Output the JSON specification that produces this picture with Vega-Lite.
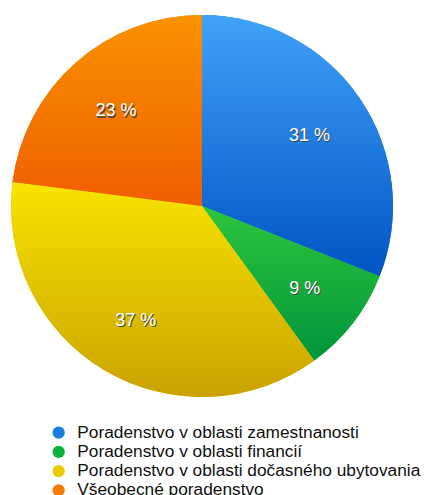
{
  "$schema": "https://vega.github.io/schema/vega-lite/v6.json",
  "autosize": "none",
  "width": 404,
  "height": 412,
  "padding": {"left": 0, "top": 0, "right": 20, "bottom": 83},
  "background": "white",
  "config": {"view": {"stroke": null}, "font": "Liberation Sans"},
  "data": {"values": [
    {"cat": "Poradenstvo v oblasti zamestnanosti", "pct": 31, "ord": 1, "label": "31 %"},
    {"cat": "Poradenstvo v oblasti financií", "pct": 9, "ord": 2, "label": "9 %"},
    {"cat": "Poradenstvo v oblasti dočasného ubytovania", "pct": 37, "ord": 3, "label": "37 %"},
    {"cat": "Všeobecné poradenstvo", "pct": 23, "ord": 4, "label": "23 %"}
  ]},
  "encoding": {
    "theta": {"field": "pct", "type": "quantitative", "stack": true},
    "order": {"field": "ord", "type": "quantitative"}
  },
  "layer": [
    {
      "mark": {"type": "arc", "outerRadius": 191},
      "encoding": {
        "color": {
          "field": "cat", "type": "nominal",
          "scale": {
            "domain": ["Poradenstvo v oblasti zamestnanosti", "Poradenstvo v oblasti financií", "Poradenstvo v oblasti dočasného ubytovania", "Všeobecné poradenstvo"],
            "range": ["#1a7ee0", "#0cb03c", "#e8cc00", "#f57c00"]
          },
          "legend": {
            "title": null,
            "orient": "none",
            "legendX": 50,
            "legendY": 424,
            "padding": 0,
            "symbolType": "circle",
            "symbolSize": 150,
            "symbolStrokeWidth": 0,
            "labelFontSize": 17.3,
            "labelFont": "Liberation Sans",
            "labelColor": "#111111",
            "labelOffset": 10,
            "rowPadding": 1.2,
            "labelLimit": 400
          }
        }
      }
    },
    {
      "mark": {"type": "arc", "outerRadius": 191},
      "encoding": {
        "fill": {
          "condition": [
            {"test": "datum.ord === 1", "value": {"gradient": "linear", "x1": 0, "y1": 0, "x2": 0, "y2": 1, "stops": [{"offset": 0, "color": "#40a2f8"}, {"offset": 1, "color": "#0054c4"}]}},
            {"test": "datum.ord === 2", "value": {"gradient": "linear", "x1": 0, "y1": 0, "x2": 0, "y2": 1, "stops": [{"offset": 0, "color": "#2ec63e"}, {"offset": 1, "color": "#00943a"}]}},
            {"test": "datum.ord === 3", "value": {"gradient": "linear", "x1": 0, "y1": 0, "x2": 0, "y2": 1, "stops": [{"offset": 0, "color": "#f8e400"}, {"offset": 1, "color": "#c9a200"}]}}
          ],
          "value": {"gradient": "linear", "x1": 0, "y1": 0, "x2": 0, "y2": 1, "stops": [{"offset": 0, "color": "#fa9200"}, {"offset": 1, "color": "#ef5e00"}]}
        }
      }
    },
    {
      "mark": {"type": "text", "radius": 130, "fontSize": 18, "font": "Liberation Sans", "color": "#444444", "dx": 1, "dy": 4.5},
      "encoding": {"text": {"field": "label"}}
    },
    {
      "mark": {"type": "text", "radius": 130, "fontSize": 18, "font": "Liberation Sans", "color": "white", "dy": 3},
      "encoding": {"text": {"field": "label"}}
    }
  ]
}
